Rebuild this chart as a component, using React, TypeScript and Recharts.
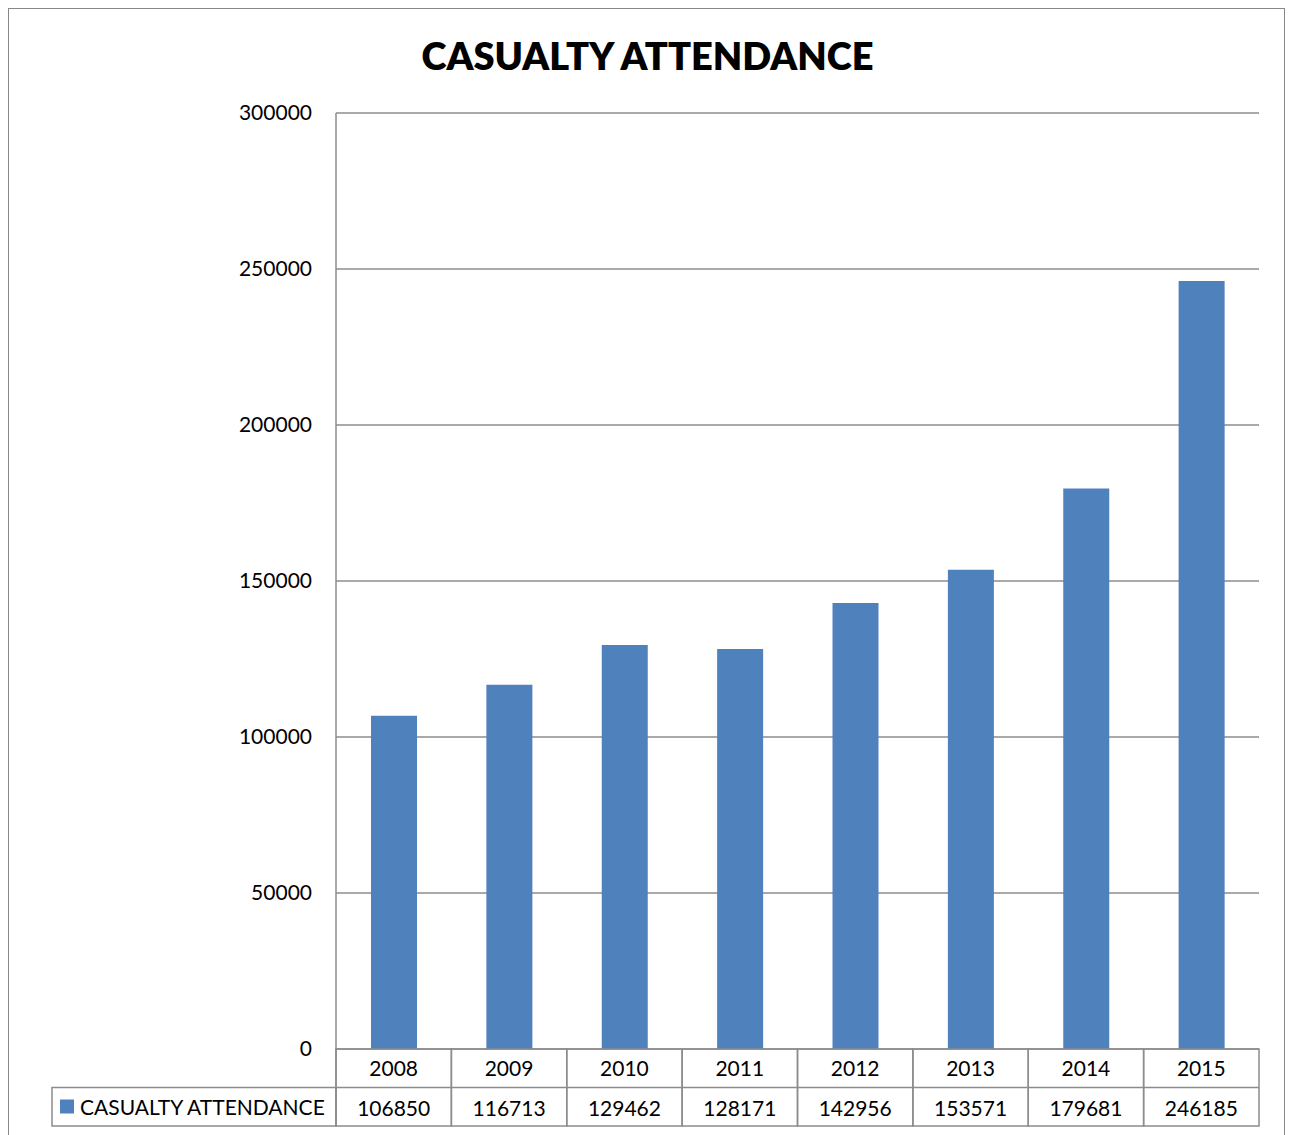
import { BarChart, Bar, XAxis, YAxis, CartesianGrid } from 'recharts';

const years = ['2008', '2009', '2010', '2011', '2012', '2013', '2014', '2015'];
const attendance = [106850, 116713, 129462, 128171, 142956, 153571, 179681, 246185];
const yTicks = [0, 50000, 100000, 150000, 200000, 250000, 300000];
const seriesName = 'CASUALTY ATTENDANCE';

const data = years.map((year, i) => ({ year, value: attendance[i] }));

const W = 1289;
const H = 1135;
const PLOT_LEFT = 336;
const PLOT_RIGHT = 1259;
const PLOT_TOP = 113;
const PLOT_BOTTOM = 1049;
const ROW_H = 38.5;
const FONT = 'Lato, "Open Sans", sans-serif';
const GRID = '#8c8c8c';
const BLUE = '#4f81bd';

const band = (PLOT_RIGHT - PLOT_LEFT) / years.length;

function TableTick(props: any) {
  const { x, y, index, payload } = props;
  const left = x - band / 2;
  return (
    <g>
      <rect x={left} y={y} width={band} height={ROW_H * 2} fill="none" stroke={GRID} strokeWidth={1.5} />
      <line x1={left} x2={left + band} y1={y + ROW_H} y2={y + ROW_H} stroke={GRID} strokeWidth={1.5} />
      <text x={x} y={y + 27} textAnchor="middle" fontSize={21} fill="#000" fontFamily={FONT}>
        {payload.value}
      </text>
      <text x={x} y={y + ROW_H + 28} textAnchor="middle" fontSize={21} fill="#000" fontFamily={FONT}>
        {attendance[index]}
      </text>
    </g>
  );
}

export default function App() {
  return (
    <div style={{ position: 'absolute', left: 0, top: 0, width: W, height: H, background: '#fff', overflow: 'hidden' }}>
      <div
        style={{
          position: 'absolute',
          left: 8,
          top: 8,
          width: 1277,
          height: H,
          border: '1.5px solid #888',
          boxSizing: 'border-box',
        }}
      />
      <div
        style={{
          position: 'absolute',
          left: 0,
          top: 32,
          width: W + 6,
          textAlign: 'center',
          fontFamily: FONT,
          fontWeight: 800,
          fontSize: 38,
          color: '#000',
        }}
      >
        {seriesName}
      </div>
      <div style={{ position: 'absolute', left: 0, top: 0 }}>
        <BarChart
          width={W}
          height={H}
          data={data}
          margin={{ top: PLOT_TOP, right: W - PLOT_RIGHT, bottom: 0, left: 0 }}
        >
          <CartesianGrid stroke={GRID} strokeWidth={1.5} vertical={false} />
          <YAxis
            width={PLOT_LEFT}
            domain={[0, 300000]}
            ticks={yTicks}
            interval={0}
            tickSize={0}
            tickMargin={24}
            axisLine={{ stroke: GRID, strokeWidth: 1.5 }}
            tickLine={false}
            tick={{ fontSize: 21, fill: '#000', fontFamily: FONT }}
          />
          <XAxis
            dataKey="year"
            height={H - PLOT_BOTTOM}
            tickSize={0}
            tickMargin={0}
            interval={0}
            axisLine={false}
            tickLine={false}
            tick={<TableTick />}
          />
          <Bar dataKey="value" fill={BLUE} barSize={46} isAnimationActive={false} />
        </BarChart>
      </div>
      <svg style={{ position: 'absolute', left: 0, top: 0 }} width={W} height={H}>
        <rect x={52} y={PLOT_BOTTOM + ROW_H} width={PLOT_LEFT - 52} height={ROW_H} fill="none" stroke={GRID} strokeWidth={1.5} />
        <line x1={PLOT_LEFT} x2={PLOT_LEFT} y1={PLOT_BOTTOM} y2={PLOT_BOTTOM + ROW_H * 2} stroke={GRID} strokeWidth={1.5} />
        <rect x={60} y={PLOT_BOTTOM + ROW_H + 12} width={14} height={14} fill={BLUE} />
        <text x={80} y={PLOT_BOTTOM + ROW_H + 27} fontSize={21} fill="#000" fontFamily={FONT}>
          {seriesName}
        </text>
      </svg>
    </div>
  );
}
